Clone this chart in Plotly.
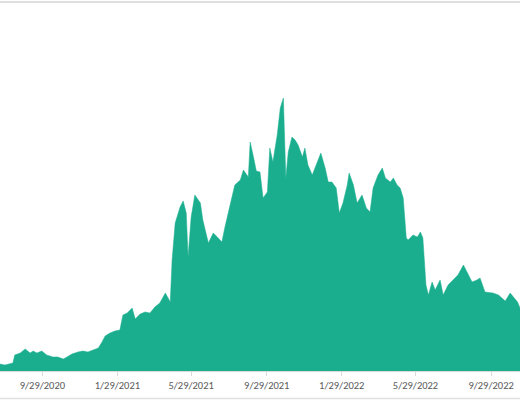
import plotly.graph_objects as go

dates = [
    "2020-07-22", "2020-07-30", "2020-08-12", "2020-08-15", "2020-08-24", "2020-09-01",
    "2020-09-09", "2020-09-14", "2020-09-20", "2020-09-28", "2020-10-06", "2020-10-16",
    "2020-10-24", "2020-11-02", "2020-11-08", "2020-11-16", "2020-11-26", "2020-12-04",
    "2020-12-12", "2020-12-24", "2020-12-29", "2021-01-04", "2021-01-09", "2021-01-17",
    "2021-01-25", "2021-02-02", "2021-02-07", "2021-02-14", "2021-02-22", "2021-02-27",
    "2021-03-07", "2021-03-15", "2021-03-23", "2021-03-31", "2021-04-08", "2021-04-17",
    "2021-04-21", "2021-04-25", "2021-04-28", "2021-05-03", "2021-05-11", "2021-05-16",
    "2021-05-21", "2021-05-24", "2021-05-29", "2021-06-04", "2021-06-13", "2021-06-17",
    "2021-06-26", "2021-07-04", "2021-07-12", "2021-07-18", "2021-07-23", "2021-07-31",
    "2021-08-08", "2021-08-17", "2021-08-22", "2021-08-30", "2021-09-02", "2021-09-07",
    "2021-09-12", "2021-09-18", "2021-09-23", "2021-09-30", "2021-10-04", "2021-10-09",
    "2021-10-16", "2021-10-21", "2021-10-26", "2021-10-30", "2021-11-03", "2021-11-09",
    "2021-11-14", "2021-11-19", "2021-11-26", "2021-11-30", "2021-12-05", "2021-12-12",
    "2021-12-20", "2021-12-26", "2022-01-02", "2022-01-07", "2022-01-13", "2022-01-20",
    "2022-01-25", "2022-01-31", "2022-02-07", "2022-02-10", "2022-02-17", "2022-02-23",
    "2022-03-03", "2022-03-10", "2022-03-16", "2022-03-21", "2022-03-29", "2022-04-05",
    "2022-04-10", "2022-04-18", "2022-04-23", "2022-04-29", "2022-05-04", "2022-05-09",
    "2022-05-14", "2022-05-17", "2022-05-25", "2022-06-01", "2022-06-06", "2022-06-10",
    "2022-06-15", "2022-06-19", "2022-06-25", "2022-06-30", "2022-07-08", "2022-07-13",
    "2022-07-21", "2022-07-29", "2022-08-06", "2022-08-15", "2022-08-21", "2022-08-29",
    "2022-09-06", "2022-09-11", "2022-09-19", "2022-10-02", "2022-10-11", "2022-10-22",
    "2022-10-30", "2022-11-04", "2022-11-11", "2022-11-15",
]

values = [
    7, 6, 8, 16, 18, 22,
    18, 20, 18, 20, 16, 14,
    14, 12, 14, 17, 19, 20,
    19, 22, 23, 29, 35, 38,
    40, 41, 56, 58, 63, 52,
    57, 59, 58, 64, 68, 78,
    74, 69, 111, 148, 164, 170,
    158, 114, 154, 176, 168, 151,
    128, 138, 133, 129, 144, 164,
    186, 191, 201, 194, 229, 215,
    200, 199, 173, 179, 223, 209,
    236, 263, 273, 193, 219, 234,
    231, 226, 214, 223, 206, 196,
    208, 218, 203, 189, 189, 183,
    158, 168, 186, 198, 186, 168,
    176, 163, 159, 183, 196, 203,
    193, 189, 193, 186, 183, 173,
    133, 131, 136, 134, 139, 133,
    86, 76, 89, 81, 91, 76,
    86, 91, 96, 106, 99, 89,
    91, 93, 79, 78, 76, 70,
    78, 74, 69, 63,
]

tick_vals = ["2020-09-29", "2021-01-29", "2021-05-29", "2021-09-29",
             "2022-01-29", "2022-05-29", "2022-09-29"]
tick_text = ["9/29/2020", "1/29/2021", "5/29/2021", "9/29/2021",
             "1/29/2022", "5/29/2022", "9/29/2022"]

x_range = ["2020-07-22", "2022-11-15"]

fill_color = "#1aae8e"

fig = go.Figure()
fig.add_trace(go.Scatter(
    x=dates, y=values, mode="lines", fill="tozeroy",
    line=dict(color=fill_color, width=0.5), fillcolor=fill_color,
    hoverinfo="skip", showlegend=False,
))

fig.update_layout(
    width=520, height=400,
    margin=dict(l=0, r=0, t=2, b=29, autoexpand=False),
    paper_bgcolor="white", plot_bgcolor="white",
    font=dict(family="Calibri, Carlito, Roboto, sans-serif", size=10.5, color="#595959"),
    xaxis=dict(
        type="date", range=x_range, tickmode="array",
        tickvals=tick_vals, ticktext=tick_text, automargin=False,
        showgrid=False, zeroline=False, showline=True, linecolor="#d9d9d9", linewidth=1,
        ticks="outside", ticklen=4, tickcolor="#d9d9d9",
    ),
    yaxis=dict(range=[0, 369], visible=False, showgrid=False, zeroline=False),
    shapes=[
        dict(type="line", xref="paper", yref="paper", x0=0, x1=1,
             y0=1, y1=1, line=dict(color="#d4d4d4", width=1.5)),
        dict(type="line", xref="paper", yref="paper", x0=0, x1=1,
             y0=-0.0745, y1=-0.0745, line=dict(color="#e0e0e0", width=1.5)),
    ],
)

fig.write_html("out.html", config={"displayModeBar": False},
               post_script="document.body.style.margin='0';")
